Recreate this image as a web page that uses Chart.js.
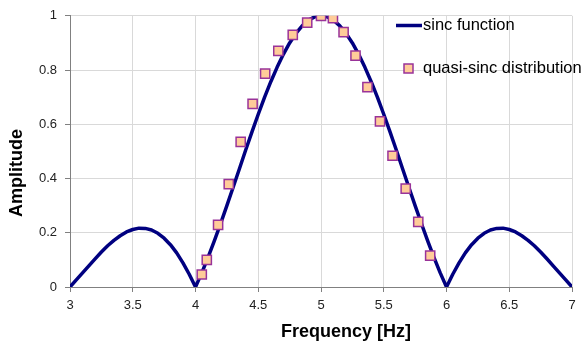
<!DOCTYPE html>
<html lang="en">
<head>
    <meta charset="UTF-8">
    <title>Sinc chart</title>
    <script src="https://cdn.jsdelivr.net/npm/chart.js"></script>
    <style>
        body { margin: 0; background: #fff; }
        canvas { display: block; }
    </style>
</head>
<body>
    <canvas id="sincChart" width="582" height="346"></canvas>
    <script>
        // sinc curve, every 0.05 Hz
        const freq = [3.00, 3.05, 3.10, 3.15, 3.20, 3.25, 3.30, 3.35, 3.40, 3.45,
                      3.50, 3.55, 3.60, 3.65, 3.70, 3.75, 3.80, 3.85, 3.90, 3.95,
                      4.00, 4.05, 4.10, 4.15, 4.20, 4.25, 4.30, 4.35, 4.40, 4.45,
                      4.50, 4.55, 4.60, 4.65, 4.70, 4.75, 4.80, 4.85, 4.90, 4.95,
                      5.00, 5.05, 5.10, 5.15, 5.20, 5.25, 5.30, 5.35, 5.40, 5.45,
                      5.50, 5.55, 5.60, 5.65, 5.70, 5.75, 5.80, 5.85, 5.90, 5.95,
                      6.00, 6.05, 6.10, 6.15, 6.20, 6.25, 6.30, 6.35, 6.40, 6.45,
                      6.50, 6.55, 6.60, 6.65, 6.70, 6.75, 6.80, 6.85, 6.90, 6.95, 7.00];
        const sincAmp = [0, 0.026, 0.052, 0.078, 0.104, 0.129, 0.152, 0.172, 0.189, 0.203,
                         0.212, 0.217, 0.216, 0.210, 0.198, 0.180, 0.156, 0.126, 0.089, 0.047,
                         0, 0.052, 0.109, 0.170, 0.234, 0.300, 0.368, 0.436, 0.505, 0.572,
                         0.637, 0.699, 0.757, 0.810, 0.858, 0.900, 0.935, 0.963, 0.984, 0.996,
                         1, 0.996, 0.984, 0.963, 0.935, 0.900, 0.858, 0.810, 0.757, 0.699,
                         0.637, 0.572, 0.505, 0.436, 0.368, 0.300, 0.234, 0.170, 0.109, 0.052,
                         0, 0.047, 0.089, 0.126, 0.156, 0.180, 0.198, 0.210, 0.216, 0.217,
                         0.212, 0.203, 0.189, 0.172, 0.152, 0.129, 0.104, 0.078, 0.052, 0.026, 0];

        // quasi-sinc samples
        const sampleFreq = [4.05, 4.09, 4.18, 4.265, 4.36, 4.455, 4.555, 4.66, 4.775, 4.89,
                            5.0, 5.095, 5.18, 5.275, 5.37, 5.47, 5.57, 5.675, 5.775, 5.87];
        const sampleAmp = [0.046, 0.10, 0.229, 0.379, 0.535, 0.675, 0.787, 0.871, 0.93, 0.975,
                           1.0, 0.991, 0.94, 0.853, 0.737, 0.611, 0.484, 0.363, 0.24, 0.116];

        const xTicks = [3, 3.5, 4, 4.5, 5, 5.5, 6, 6.5, 7];
        const yTicks = [0, 0.2, 0.4, 0.6, 0.8, 1];

        const xTitle = 'Frequency [Hz]';
        const yTitle = 'Amplitude';

        const FONT = '"Liberation Sans", Arial, sans-serif';

        // legend inside the plot (top right, over the grid) and the two axis titles,
        // which sit a bit off-centre in the original
        const extras = {
            id: 'extras',
            afterDraw(chart) {
                const ctx = chart.ctx;
                const line = chart.data.datasets[1];
                const pts = chart.data.datasets[0];
                ctx.save();
                ctx.font = '16.5px ' + FONT;
                ctx.fillStyle = '#000';
                ctx.textBaseline = 'middle';

                ctx.strokeStyle = line.borderColor;
                ctx.lineWidth = line.borderWidth;
                ctx.beginPath();
                ctx.moveTo(396, 25.5);
                ctx.lineTo(422, 25.5);
                ctx.stroke();
                ctx.fillText(line.label, 423, 25.5);

                ctx.fillStyle = pts.backgroundColor;
                ctx.strokeStyle = pts.borderColor;
                ctx.lineWidth = pts.borderWidth;
                ctx.fillRect(404, 64, 9, 9);
                ctx.strokeRect(404, 64, 9, 9);
                ctx.fillStyle = '#000';
                ctx.fillText(pts.label, 423, 68.5);

                ctx.font = 'bold 18px ' + FONT;
                ctx.textAlign = 'center';
                ctx.textBaseline = 'alphabetic';
                ctx.fillText(xTitle, 346, 337);

                ctx.translate(22, 173);
                ctx.rotate(-Math.PI / 2);
                ctx.fillText(yTitle, 0, 0);
                ctx.restore();
            }
        };

        new Chart(document.getElementById('sincChart'), {
            type: 'scatter',
            data: {
                datasets: [{
                    label: 'quasi-sinc distribution',
                    data: sampleFreq.map((f, i) => ({ x: f, y: sampleAmp[i] })),
                    pointStyle: 'rect',
                    pointRadius: 6.5,
                    backgroundColor: '#FFCC99',
                    borderColor: '#993399',
                    borderWidth: 1.5,
                    order: 1
                }, {
                    label: 'sinc function',
                    data: freq.map((f, i) => ({ x: f, y: sincAmp[i] })),
                    showLine: true,
                    tension: 0,
                    pointRadius: 0,
                    borderColor: '#000080',
                    borderWidth: 3.5,
                    borderJoinStyle: 'round',
                    order: 2
                }]
            },
            options: {
                responsive: false,
                animation: false,
                layout: { padding: { top: 12, right: 10, left: 0, bottom: 0 } },
                plugins: {
                    legend: { display: false },
                    tooltip: { enabled: false }
                },
                scales: {
                    x: {
                        type: 'linear',
                        min: 3, max: 7,
                        afterBuildTicks: s => { s.ticks = xTicks.map(v => ({ value: v })); },
                        afterFit: s => { s.height = 59; },
                        ticks: {
                            autoSkip: false, maxRotation: 0, padding: 6,
                            callback: v => String(v),
                            color: '#222', font: { family: FONT, size: 13 }
                        },
                        grid: { color: '#d9d9d9', tickColor: '#808080', tickLength: 5 },
                        border: { color: '#808080', width: 1 }
                    },
                    y: {
                        min: 0, max: 1,
                        afterBuildTicks: s => { s.ticks = yTicks.map(v => ({ value: v })); },
                        afterFit: s => { s.width = 70; },
                        ticks: {
                            padding: 8, color: '#222',
                            callback: v => String(v),
                            font: { family: FONT, size: 13 }
                        },
                        grid: { color: '#d9d9d9', tickColor: '#808080', tickLength: 5 },
                        border: { color: '#808080', width: 1 }
                    }
                }
            },
            plugins: [extras]
        });
    </script>
</body>
</html>
